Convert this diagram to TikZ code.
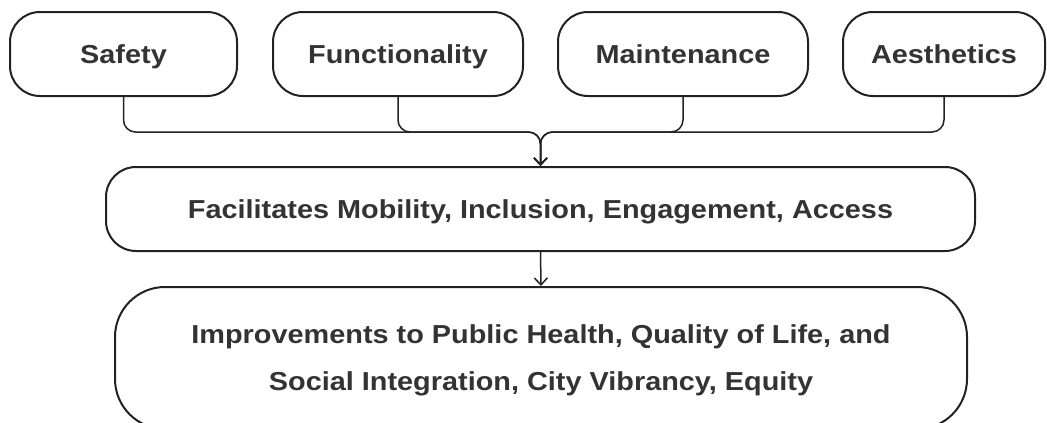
\documentclass[tikz,border=0pt]{standalone}
\usepackage{fontspec}
\setmainfont{Liberation Sans}[FakeStretch=1.11]
\usetikzlibrary{arrows.meta}
\definecolor{ink}{HTML}{222222}
\definecolor{txt}{HTML}{333333}
\begin{document}
\begin{tikzpicture}[x=1pt,y=-1pt,
  box/.style={draw=ink, line width=2pt, rounded corners=30pt, text=txt,
    font=\fontsize{26}{47}\selectfont\bfseries, text height=18.6pt, text depth=0pt, inner sep=0pt},
  conn/.style={draw=ink, line width=1.5pt, rounded corners=12pt},
  tip/.style={-{Straight Barb[length=7pt,width=13pt,line width=1.5pt]}}]
\useasboundingbox (0,0) rectangle (1047,423);
\clip (0,0) rectangle (1047,423);
\node[box, minimum width=227pt, minimum height=84pt] (saf) at (123.5,54) {Safety};
\node[box, minimum width=250pt, minimum height=84pt] (fun) at (398,54) {Functionality};
\node[box, minimum width=250pt, minimum height=84pt] (mai) at (683,54) {Maintenance};
\node[box, minimum width=202pt, minimum height=84pt] (aes) at (944,54) {Aesthetics};
\node[box, minimum width=869pt, minimum height=84pt] (mid) at (540.5,209) {Facilitates Mobility, Inclusion, Engagement, Access};
\node[box, rounded corners=50pt, minimum width=852pt, minimum height=142pt, align=center, text height=65.6pt, text depth=0pt] (bot) at (541,358)
  {Improvements to Public Health, Quality of Life, and\\Social Integration, City Vibrancy, Equity};
\coordinate (j) at (540.5,132);
\draw[conn,tip] (saf.south) |- (j) -- (mid.north);
\draw[conn,tip] (fun.south) |- (j) -- (mid.north);
\draw[conn,tip] (mai.south) |- (j) -- (mid.north);
\draw[conn,tip] (aes.south) |- (j) -- (mid.north);
\draw[conn,tip] (mid.south) -- (bot.north);
\end{tikzpicture}
\end{document}
